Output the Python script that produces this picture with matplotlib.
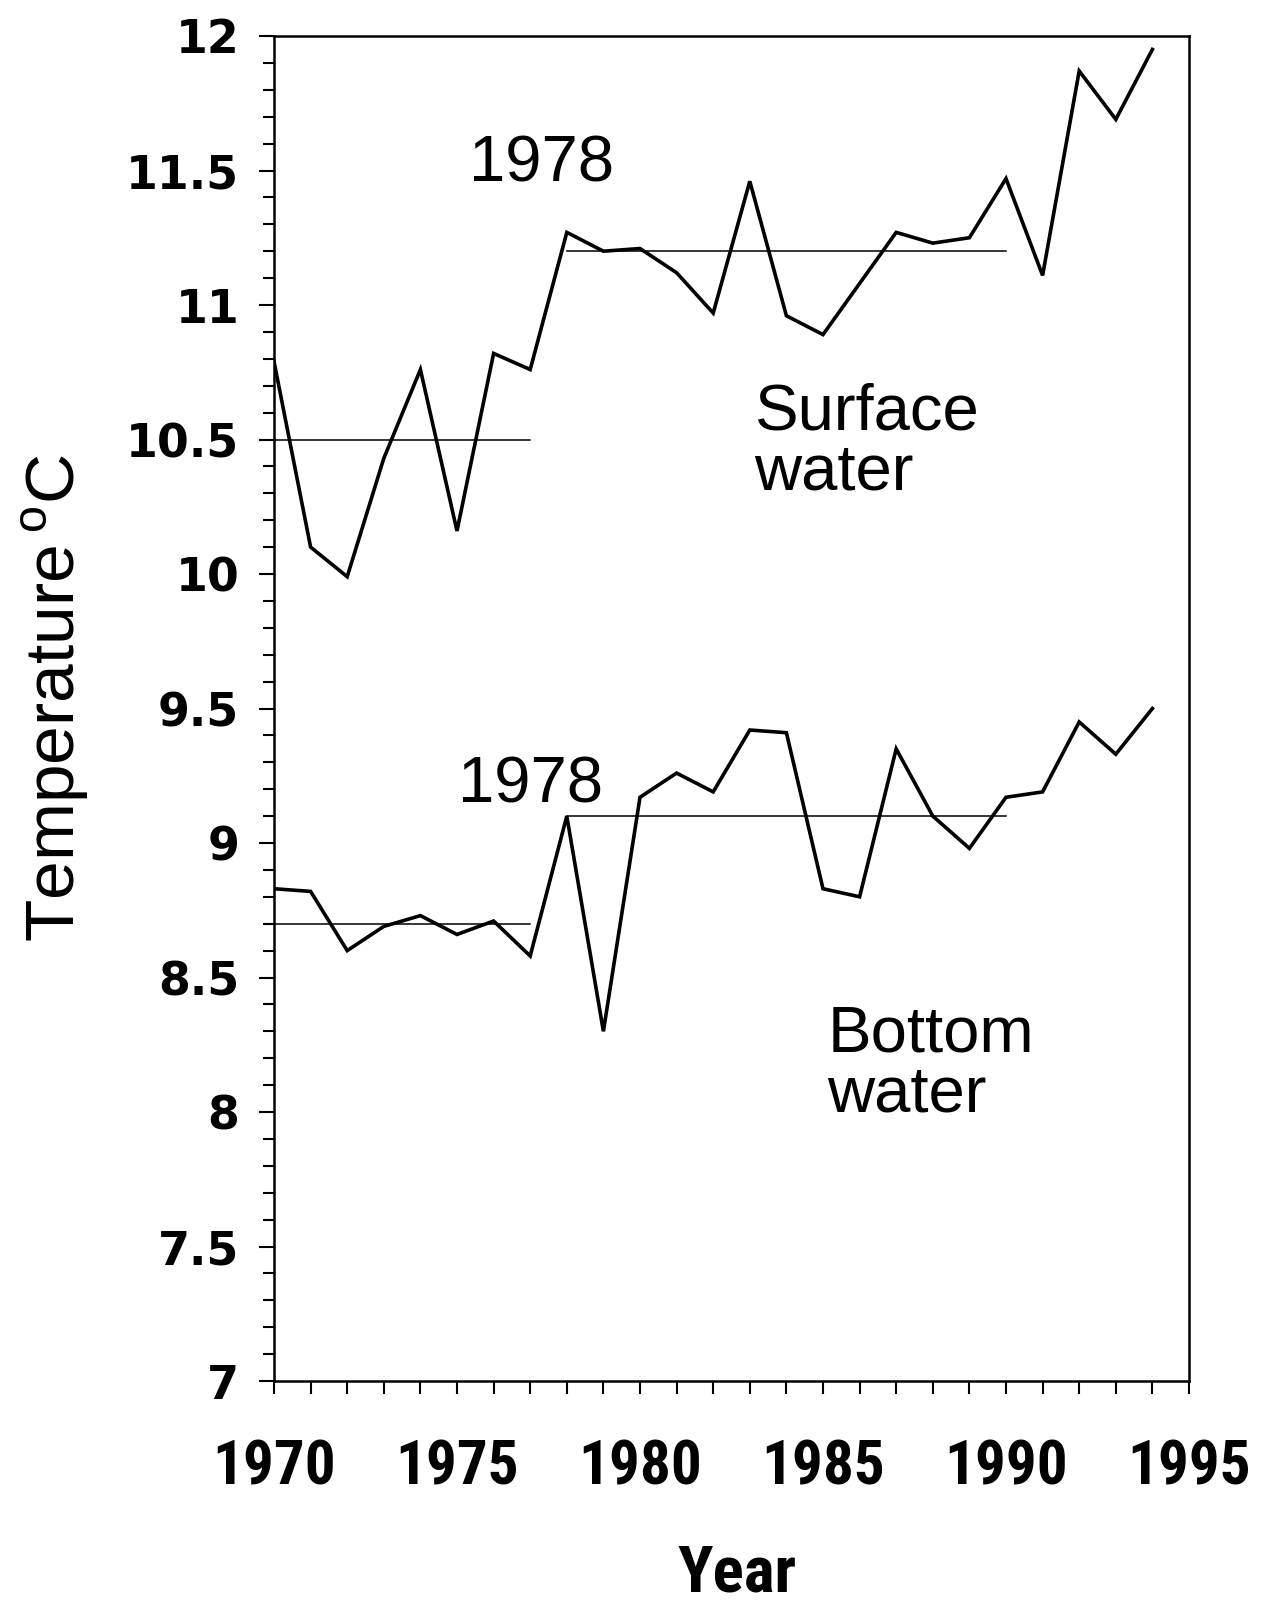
import matplotlib
matplotlib.use("Agg")
import matplotlib.pyplot as plt
from matplotlib import font_manager as fm
from matplotlib.ticker import MultipleLocator

plt.rcParams['mathtext.fontset'] = 'custom'
plt.rcParams['mathtext.rm'] = 'Liberation Sans'

years = list(range(1970, 1995))
surface = [10.79, 10.10, 9.99, 10.43, 10.76, 10.16, 10.82, 10.76, 11.27, 11.20,
           11.21, 11.12, 10.97, 11.46, 10.96, 10.89, 11.08, 11.27, 11.23, 11.25,
           11.47, 11.11, 11.87, 11.69, 11.95]
bottom = [8.83, 8.82, 8.60, 8.69, 8.73, 8.66, 8.71, 8.58, 9.10, 8.30,
          9.17, 9.26, 9.19, 9.42, 9.41, 8.83, 8.80, 9.35, 9.10, 8.98,
          9.17, 9.19, 9.45, 9.33, 9.50]
# period means: (start year, end year, mean)
surface_means = [(1970, 1977, 10.5), (1978, 1990, 11.2)]
bottom_means = [(1970, 1977, 8.7), (1978, 1990, 9.1)]

xticks = [1970, 1975, 1980, 1985, 1990, 1995]
yticks = [7, 7.5, 8, 8.5, 9, 9.5, 10, 10.5, 11, 11.5, 12]
ytick_labels = ["7", "7.5", "8", "8.5", "9", "9.5", "10", "10.5", "11", "11.5", "12"]


def font_available(name):
    try:
        fm.findfont(fm.FontProperties(family=name, weight='bold'),
                    fallback_to_default=False)
        return True
    except Exception:
        return False


narrow = None
for cand in ['Liberation Sans Narrow', 'Roboto Condensed', 'DejaVu Sans Condensed',
             'Open Sans Condensed', 'Arial Narrow']:
    if font_available(cand):
        narrow = cand
        break
if narrow is not None:
    narrow_family = [narrow, 'DejaVu Sans']
    xt_size, year_size = 44, 47
else:
    narrow_family = ['Liberation Sans', 'DejaVu Sans']
    xt_size, year_size = 37, 40

fig = plt.figure(figsize=(12.7, 16.1), dpi=100)
ax = fig.add_axes([274/1270, 1 - 1381/1610, 915/1270, 1345/1610])

ax.plot(years, surface, color='black', lw=2.6, solid_joinstyle='miter')
ax.plot(years, bottom, color='black', lw=2.6, solid_joinstyle='miter')
for x0, x1, m in surface_means + bottom_means:
    ax.plot([x0, x1], [m, m], color='black', lw=1.1)

ax.set_xlim(1970, 1995)
ax.set_ylim(7, 12)
ax.set_xticks(xticks)
ax.xaxis.set_minor_locator(MultipleLocator(1))
ax.set_yticks(yticks)
ax.yaxis.set_minor_locator(MultipleLocator(0.1))
ax.set_yticklabels(ytick_labels)

for s in ax.spines.values():
    s.set_linewidth(1.8)

ax.tick_params(axis='x', which='both', direction='out', length=9.5, width=1.5,
               pad=32, top=False)
ax.tick_params(axis='y', which='major', direction='out', length=11, width=1.5,
               pad=14, right=False)
ax.tick_params(axis='y', which='minor', direction='out', length=8, width=1.5,
               right=False)

for lab in ax.get_xticklabels():
    lab.set_family(narrow_family)
    lab.set_fontweight('bold')
    lab.set_fontsize(xt_size)
for lab in ax.get_yticklabels():
    lab.set_family(['DejaVu Sans'])
    lab.set_fontweight('bold')
    lab.set_fontsize(33)

tfont = dict(family=['Liberation Sans', 'DejaVu Sans'], fontsize=47)
ax.text(1977.32, 11.524, "1978", ha='center', va='center', **tfont)
ax.text(1977.01, 9.215, "1978", ha='center', va='center', **tfont)
ax.text(1983.13, 10.487, "Surface\nwater", ha='left', va='center',
        linespacing=1.0, **tfont)
ax.text(1985.12, 8.178, "Bottom\nwater", ha='left', va='center',
        linespacing=1.0, **tfont)

fig.text(56/1270, 1 - 698/1610, r"Temperature$\,^{\mathrm{o}}$C", rotation=90,
         ha='center', va='center', family=['Liberation Sans', 'DejaVu Sans'],
         fontsize=50)
fig.text(737/1270, 1 - 1574/1610, "Year", ha='center', va='center',
         family=narrow_family, fontweight='bold', fontsize=year_size)

fig.savefig("out.png", dpi=100)
